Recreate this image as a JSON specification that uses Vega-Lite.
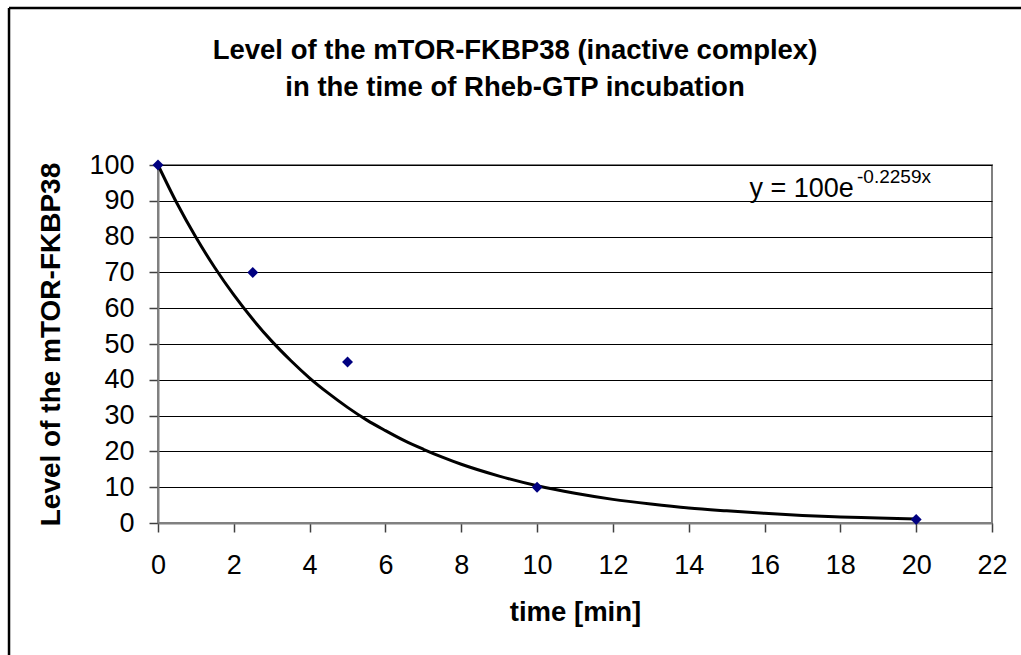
{
  "$schema": "https://vega.github.io/schema/vega-lite/v6.json",
  "width": 834,
  "height": 358,
  "autosize": {"type": "none"},
  "padding": {"left": 158, "top": 165, "right": 29, "bottom": 132},
  "background": "white",
  "config": {
    "font": "Liberation Sans",
    "view": {"stroke": "#808080", "strokeWidth": 2},
    "axis": {
      "labelFont": "Liberation Sans",
      "titleFont": "Liberation Sans",
      "labelColor": "black",
      "titleColor": "black",
      "labelFontSize": 27,
      "titleFontSize": 27.5,
      "titleFontWeight": "bold",
      "domainColor": "#808080",
      "domainWidth": 2,
      "tickColor": "#404040",
      "tickWidth": 1.5,
      "tickSize": 9,
      "labelOverlap": false
    }
  },
  "title": {
    "text": ["Level of the mTOR-FKBP38 (inactive complex)", "in the time of Rheb-GTP incubation"],
    "font": "Liberation Sans",
    "fontSize": 27.5,
    "fontWeight": "bold",
    "color": "black",
    "lineHeight": 37,
    "anchor": "middle",
    "dx": -60,
    "offset": -95
  },
  "datasets": {
    "points": [
      {"time": 0, "level": 100},
      {"time": 2.5, "level": 70},
      {"time": 5, "level": 45},
      {"time": 10, "level": 10},
      {"time": 20, "level": 1}
    ],
    "trend": [
      {"time": 0, "level": 100},
      {"time": 0.5, "level": 89.3},
      {"time": 1, "level": 79.8},
      {"time": 1.5, "level": 71.3},
      {"time": 2, "level": 63.7},
      {"time": 2.5, "level": 56.9},
      {"time": 3, "level": 50.8},
      {"time": 3.5, "level": 45.4},
      {"time": 4, "level": 40.5},
      {"time": 4.5, "level": 36.2},
      {"time": 5, "level": 32.3},
      {"time": 5.5, "level": 28.8},
      {"time": 6, "level": 25.8},
      {"time": 6.5, "level": 23.0},
      {"time": 7, "level": 20.6},
      {"time": 7.5, "level": 18.4},
      {"time": 8, "level": 16.4},
      {"time": 9, "level": 13.1},
      {"time": 10, "level": 10.4},
      {"time": 11, "level": 8.3},
      {"time": 12, "level": 6.6},
      {"time": 13, "level": 5.3},
      {"time": 14, "level": 4.2},
      {"time": 15, "level": 3.4},
      {"time": 16, "level": 2.7},
      {"time": 17, "level": 2.1},
      {"time": 18, "level": 1.7},
      {"time": 19, "level": 1.4},
      {"time": 20, "level": 1.1}
    ]
  },
  "layer": [
    {
      "data": {"name": "trend"},
      "mark": {"type": "line", "color": "black", "strokeWidth": 3, "interpolate": "monotone"},
      "encoding": {
        "x": {
          "field": "time",
          "type": "quantitative",
          "scale": {"domain": [0, 22], "nice": false, "zero": false},
          "axis": {
            "title": "time [min]",
            "values": [0, 2, 4, 6, 8, 10, 12, 14, 16, 18, 20, 22],
            "grid": false,
            "labelPadding": 20,
            "titlePadding": 20,
            "labelFlush": false,
            "labelOverlap": false
          }
        },
        "y": {
          "field": "level",
          "type": "quantitative",
          "scale": {"domain": [0, 100], "nice": false},
          "axis": {
            "title": "Level of the mTOR-FKBP38",
            "titleFontSize": 28,
            "values": [0, 10, 20, 30, 40, 50, 60, 70, 80, 90, 100],
            "tickCount": 11,
            "grid": true,
            "gridColor": "black",
            "gridWidth": 1,
            "labelPadding": 15,
            "titlePadding": 23,
            "labelFlush": false,
            "labelOverlap": false
          }
        }
      }
    },
    {
      "data": {"name": "points"},
      "mark": {"type": "point", "shape": "diamond", "filled": true, "color": "#000080", "size": 120, "opacity": 1},
      "encoding": {
        "x": {"field": "time", "type": "quantitative"},
        "y": {"field": "level", "type": "quantitative"}
      }
    },
    {
      "data": {"values": [{"label": "y = 100e"}]},
      "mark": {"type": "text", "align": "left", "baseline": "alphabetic", "fontSize": 27, "font": "Liberation Sans", "color": "black"},
      "encoding": {
        "x": {"datum": 15.6},
        "y": {"datum": 91.1},
        "text": {"field": "label"}
      }
    },
    {
      "data": {"values": [{"label": "-0.2259x"}]},
      "mark": {"type": "text", "align": "left", "baseline": "alphabetic", "fontSize": 19, "font": "Liberation Sans", "color": "black"},
      "encoding": {
        "x": {"datum": 18.44},
        "y": {"datum": 95.0},
        "text": {"field": "label"}
      }
    },
    {
      "data": {"values": [{"edge": "left"}]},
      "mark": {"type": "rule", "color": "black", "strokeWidth": 2.5, "clip": false},
      "encoding": {
        "x": {"datum": -3.93},
        "y": {"datum": 143.85},
        "y2": {"datum": -40}
      }
    },
    {
      "data": {"values": [{"edge": "top"}]},
      "mark": {"type": "rule", "color": "black", "strokeWidth": 2.5, "clip": false},
      "encoding": {
        "x": {"datum": -3.93},
        "x2": {"datum": 23},
        "y": {"datum": 143.85}
      }
    }
  ]
}
